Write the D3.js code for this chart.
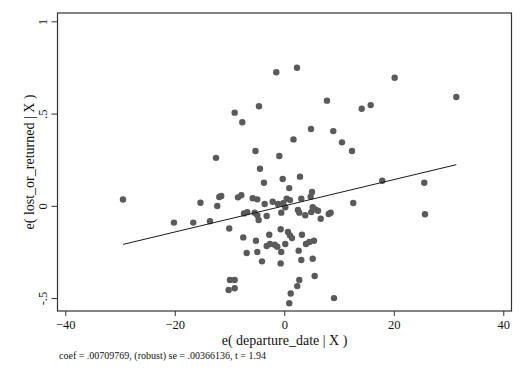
<!DOCTYPE html>
<html>
<head>
<meta charset="utf-8">
<script src="https://cdn.jsdelivr.net/npm/d3@7"></script>
<style>
  body { margin: 0; background: #fff; }
  svg { display: block; font-family: "Liberation Serif", "DejaVu Serif", serif; }
</style>
</head>
<body>
<svg id="svg"></svg>
<script>
const svg = d3.select("#svg")

const width = 528
const height = 371
const margin = { top: 13, right: 16.5, bottom: 60, left: 57.5 }

// residuals
const departureRes = [
    -29.46, -20.15, -16.62, -15.31, -13.57, -12.47, -12.24, -11.87, -11.51, -10.05,
    -10.16, -9.92, -9.06, -9.06, -9.06, -8.46, -7.85, -7.67, -7.49, -7.36,
    -6.76, -6.87, -5.77, -4.93, -5.41, -5.26, -4.93, -4.68, -5.17, -4.93,
    -4.62, -4.44, -4.07, -3.71, -3.58, -3.21, -3.21, -2.74, -2.61, -2.12,
    -1.75, -1.46, -1.28, -1.15, -0.91, -0.66, -0.55, -0.55, -0.66, -0.29,
    -0.18, 0.18, 0.18, 0.44, 0.68, 0.91, 0.91, 1.04, 1.04, 1.17,
    1.41, 1.68, 2.32, 2.37, 2.50, 2.63, 2.74, 2.74, 2.87, 3.11,
    3.11, 3.23, 3.84, 3.96, 4.57, 4.82, 4.88, 4.93, 5.06, 5.19,
    5.19, 5.42, 5.55, 5.66, 6.16, 6.65, 7.80, 8.11, 8.47, 8.95,
    9.08, 10.54, 12.37, 12.60, 14.14, 15.78, 17.90, 20.16, 25.57, 25.70,
    31.42
]
const lostRes = [
    0.034, -0.091, -0.091, 0.017, -0.083, 0.260, -0.001, 0.048, 0.053, -0.123,
    -0.456, -0.402, -0.402, -0.447, 0.505, 0.046, 0.057, 0.453, -0.171, -0.041,
    -0.034, -0.256, 0.041, 0.035, -0.037, 0.297, -0.051, -0.077, -0.189, -0.250,
    0.540, 0.201, -0.301, 0.125, 0.010, -0.055, -0.218, -0.157, -0.207, 0.022,
    -0.211, 0.724, -0.222, 0.010, 0.270, -0.127, -0.250, -0.037, -0.312, 0.145,
    0.014, -0.008, -0.207, 0.038, -0.142, 0.096, -0.528, 0.031, -0.160, -0.475,
    -0.175, 0.360, 0.748, -0.435, -0.023, -0.243, -0.037, -0.402, 0.158, 0.038,
    -0.294, -0.157, -0.051, -0.207, -0.196, 0.049, 0.416, -0.034, 0.075, -0.008,
    -0.287, -0.189, -0.380, -0.019, -0.027, -0.070, 0.570, -0.044, -0.037, 0.405,
    -0.500, 0.344, 0.297, 0.015, 0.526, 0.546, 0.136, 0.694, 0.125, -0.046,
    0.590
]

const coef = 0.00709769
const noteText = "coef = .00709769, (robust) se = .00366136, t = 1.94"

const xTicks = [-40, -20, 0, 20, 40]
const yTicks = [-0.5, 0, 0.5, 1]
const yTickLabels = ["-.5", "0", ".5", "1"]

svg.attr("width", width).attr("height", height)

const x = d3.scaleLinear()
    .domain([-41.42, 41.5])
    .range([margin.left, width - margin.right])

const y = d3.scaleLinear()
    .domain([-0.570, 1.045])
    .range([height - margin.bottom, margin.top])

// axes
const xAxis = svg.append("g")
    .attr("transform", `translate(0,${height - margin.bottom})`)
    .call(d3.axisBottom(x).tickValues(xTicks).tickSize(5).tickPadding(4).tickFormat(d3.format("d")))
xAxis.select(".domain").remove()
xAxis.selectAll("line").attr("stroke", "#333")
xAxis.selectAll("text")
    .attr("font-size", 12.5)
    .attr("fill", "#111")
    .style("font-family", "Liberation Serif, serif")

const yAxis = svg.append("g")
    .attr("transform", `translate(${margin.left},0)`)
    .call(d3.axisLeft(y).tickValues(yTicks).tickSize(6).tickFormat((d, i) => yTickLabels[i]))
yAxis.select(".domain").remove()
yAxis.selectAll("line").attr("stroke", "#333")
yAxis.selectAll("text")
    .attr("x", null).attr("dy", null)
    .attr("text-anchor", "middle")
    .attr("transform", "translate(-11,0) rotate(-90)")
    .attr("font-size", 12.5)
    .attr("fill", "#111")
    .style("font-family", "Liberation Serif, serif")

// frame
svg.append("rect")
    .attr("x", x.range()[0])
    .attr("y", y.range()[1])
    .attr("width", x.range()[1] - x.range()[0])
    .attr("height", y.range()[0] - y.range()[1])
    .attr("fill", "none")
    .attr("stroke", "#333")
    .attr("stroke-width", 1.2)

// points
svg.append("g")
    .selectAll("circle")
    .data(departureRes)
    .join("circle")
    .attr("cx", d => x(d))
    .attr("cy", (d, i) => y(lostRes[i]))
    .attr("r", 3.2)
    .attr("fill", "#5a5a5a")

// fitted line through the origin
const xExt = d3.extent(departureRes)
svg.append("line")
    .attr("x1", x(xExt[0]))
    .attr("y1", y(coef * xExt[0]))
    .attr("x2", x(xExt[1]))
    .attr("y2", y(coef * xExt[1]))
    .attr("stroke", "#1a1a1a")
    .attr("stroke-width", 1)

// titles
svg.append("text")
    .attr("x", (x.range()[0] + x.range()[1]) / 2 + 0)
    .attr("y", 345)
    .attr("text-anchor", "middle")
    .attr("font-size", 14)
    .attr("fill", "#111")
    .text("e( departure_date | X )")

svg.append("text")
    .attr("transform", `translate(34,${(y.range()[0] + y.range()[1]) / 2}) rotate(-90)`)
    .attr("text-anchor", "middle")
    .attr("font-size", 14)
    .attr("fill", "#111")
    .text("e( lost_or_returned | X )")

svg.append("text")
    .attr("x", 59)
    .attr("y", 358.5)
    .attr("font-size", 10)
    .attr("fill", "#111")
    .text(noteText)
</script>
</body>
</html>
